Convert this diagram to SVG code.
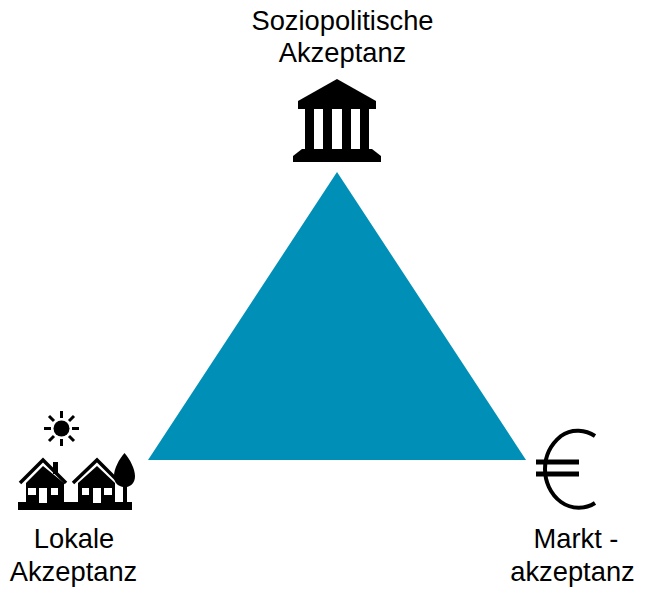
<svg xmlns="http://www.w3.org/2000/svg" width="650" height="590" viewBox="0 0 650 590">
<style>
text{font-family:"Liberation Sans",Arial,sans-serif;font-size:27.300px;fill:#000;text-anchor:middle}
.k{fill:#000}.w{fill:#fff}
</style>
<rect width="650" height="590" fill="#fff"/>
<g id="triangle"><polygon points="337,172 526,460 148,460" fill="#008fb6"/></g>
<g id="soziopolitische">
<text x="342.500" y="30">Soziopolitische</text>
<text x="342.500" y="62">Akzeptanz</text>
<g id="icon-building">
<polygon class="k" points="337,79 376,101 376,109 298,109 298,101"/>
<rect class="k" x="305" y="108" width="9" height="43"/>
<rect class="k" x="323" y="108" width="9" height="43"/>
<rect class="k" x="342" y="108" width="9" height="43"/>
<rect class="k" x="360" y="108" width="9" height="43"/>
<polygon class="k" points="302,149 372,149 381,156 381,162 293,162 293,156"/>
</g>
</g>
<g id="lokale">
<text x="74" y="548">Lokale</text>
<text x="73.500" y="581">Akzeptanz</text>
<g id="icon-sun">
<circle class="k" cx="61.500" cy="428.500" r="8"/>
<g stroke="#000" stroke-width="3" fill="none">
<path d="M61.500 411v7M61.500 439v7M44 428.500h7M72 428.500h7M49 416l5 5M69 436l5 5M74 416l-5 5M54 436l-5 5"/>
</g>
</g>
<g id="icon-houses">
<rect class="k" x="18" y="502" width="114" height="8"/>
<polyline points="20,483 43,460 66,483" fill="none" stroke="#000" stroke-width="3.500"/>
<rect class="k" x="53" y="462" width="5" height="12"/>
<polygon class="k" points="43,466 26,483 26,503 64,503 64,483"/>
<rect class="w" x="28" y="488" width="8" height="7"/>
<rect class="w" x="39" y="488" width="8" height="15"/>
<rect class="w" x="51" y="488" width="7" height="7"/>
<polyline points="73,483 97,460 120,483" fill="none" stroke="#000" stroke-width="3.500"/>
<polygon class="k" points="97,466 78,483 78,503 115,503 115,483"/>
<rect class="w" x="82" y="488" width="7" height="7"/>
<rect class="w" x="93" y="488" width="8" height="15"/>
<rect class="w" x="104" y="488" width="8" height="7"/>
<path class="k" d="M124.500 453C130 459 135 469 135 476C135 483 131 486 127 487V503H123V487C118 486 114 483 114 476C114 469 119 459 124.500 453Z"/>
</g>
</g>
<g id="markt">
<text x="576" y="548">Markt -</text>
<text x="572.500" y="581">akzeptanz</text>
<g id="icon-euro" fill="none" stroke="#000">
<path d="M595 436C586 430 572 428 561 436C550 445 545 457 545 469C545 481 550 494 561 502C572 510 586 509 595 503" stroke-width="4"/>
<path d="M536 462H579M536 474H579" stroke-width="5"/>
</g>
</g>
</svg>
